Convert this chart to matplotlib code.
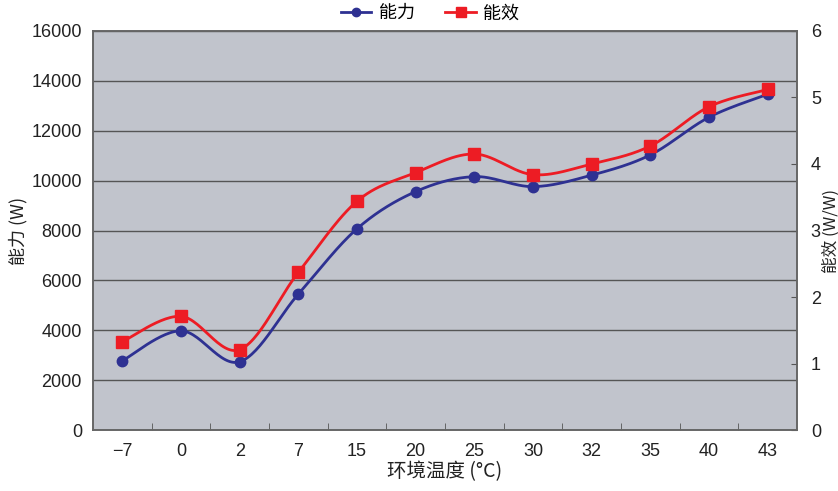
import matplotlib
matplotlib.use("Agg")
import matplotlib.pyplot as plt
from matplotlib.lines import Line2D
import numpy as np

# data
temps = ["\u22127", "0", "2", "7", "15", "20", "25", "30", "32", "35", "40", "43"]
capacity = [2780, 3980, 2740, 5450, 8070, 9560, 10160, 9760, 10220, 11030, 12540, 13460]
efficiency = [1.33, 1.71, 1.21, 2.37, 3.44, 3.87, 4.15, 3.84, 4.00, 4.27, 4.86, 5.12]

CJK = ["Noto Sans CJK SC", "DejaVu Sans"]
NUM = ["Liberation Sans", "DejaVu Sans"]
plt.rcParams["font.family"] = NUM

BLUE = "#2e3192"
RED = "#ed1c24"
BG = "#c1c4cc"


def smooth(y, n=30):
    # excel-style smoothed line: bezier with neighbour-based control points
    x = np.arange(len(y), dtype=float)
    pts = np.column_stack([x, np.asarray(y, dtype=float)])
    out = []
    for i in range(len(pts) - 1):
        p0 = pts[i - 1] if i > 0 else pts[i]
        p1, p2 = pts[i], pts[i + 1]
        p3 = pts[i + 2] if i + 2 < len(pts) else pts[i + 1]
        c1 = p1 + (p2 - p0) / 6
        c2 = p2 - (p3 - p1) / 6
        t = np.linspace(0, 1, n)[:, None]
        seg = ((1 - t) ** 3) * p1 + 3 * ((1 - t) ** 2) * t * c1 + 3 * (1 - t) * t ** 2 * c2 + t ** 3 * p2
        out.append(seg if i == 0 else seg[1:])
    seg = np.vstack(out)
    return seg[:, 0], seg[:, 1]


fig = plt.figure(figsize=(8.38, 4.91), dpi=100)
ax = fig.add_axes([0.111, 0.124, 0.840, 0.813])
ax2 = ax.twinx()

ax.set_facecolor(BG)
ax.set_xlim(-0.5, len(temps) - 0.5)
ax.set_ylim(0, 16000)
ax2.set_ylim(0, 6)

ax.set_yticks(np.arange(0, 16001, 2000))
ax.grid(axis="y", color="#555555", lw=1.0)
ax.set_axisbelow(True)
ax.tick_params(axis="y", length=0, labelsize=13, pad=8, labelcolor="#222222")

x = np.arange(len(temps))
ax.set_xticks(x)
ax.set_xticklabels(temps)
ax.set_xticks(np.arange(0.5, len(temps) - 1, 1), minor=True)
ax.tick_params(axis="x", which="major", length=0, labelsize=13, pad=9, labelcolor="#222222")
ax.tick_params(axis="x", which="minor", direction="in", length=5, color="#555555")

ax2.set_yticks(np.arange(0, 7, 1))
ax2.tick_params(axis="y", direction="in", length=4, color="#555555", labelsize=13, pad=10, labelcolor="#222222")

for a in (ax, ax2):
    for s in a.spines.values():
        s.set_color("#666666")
        s.set_linewidth(1.2)

bx, by = smooth(capacity)
ax.plot(bx, by, color=BLUE, lw=2.0, zorder=3)
ax.plot(x, capacity, "o", color=BLUE, ms=7.5, zorder=4)

rx, ry = smooth(efficiency)
ax2.plot(rx, ry, color=RED, lw=2.0, zorder=3)
ax2.plot(x, efficiency, "s", color=RED, ms=8.5, zorder=4)

ax.set_xlabel("环境温度 (°C)", family=CJK, fontsize=14, labelpad=1, color="#222222")
ax.set_ylabel("能力 (W)", family=CJK, fontsize=13, labelpad=3, color="#222222")
ax2.set_ylabel("能效 (W/W)", family=CJK, fontsize=12, labelpad=1, color="#222222")

handles = [
    Line2D([], [], color=BLUE, lw=2.0, marker="o", ms=6),
    Line2D([], [], color=RED, lw=2.0, marker="s", ms=7),
]
fig.legend(handles, ["能力", "能效"], loc="center", bbox_to_anchor=(0.513, 0.973), ncol=2,
           frameon=False, prop={"family": CJK, "size": 13}, handlelength=1.7,
           columnspacing=1.7, handletextpad=0.4, borderpad=0)

fig.savefig("out.png", dpi=100)
